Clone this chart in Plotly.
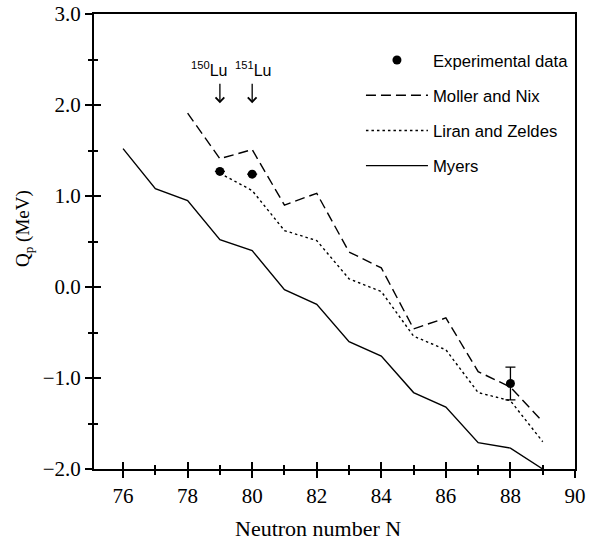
import plotly.graph_objects as go

# Data
N_myers = [76, 77, 78, 79, 80, 81, 82, 83, 84, 85, 86, 87, 88, 89]
Q_myers = [1.52, 1.08, 0.95, 0.52, 0.40, -0.03, -0.19, -0.60, -0.76, -1.16, -1.32, -1.71, -1.77, -2.0]

N_moller = [78, 79, 80, 81, 82, 83, 84, 85, 86, 87, 88, 89]
Q_moller = [1.91, 1.41, 1.51, 0.90, 1.03, 0.385, 0.21, -0.46, -0.34, -0.93, -1.10, -1.48]

N_liran = [79, 80, 81, 82, 83, 84, 85, 86, 87, 88, 89]
Q_liran = [1.25, 1.06, 0.62, 0.51, 0.09, -0.05, -0.54, -0.69, -1.16, -1.25, -1.70]

N_exp = [79, 80, 88]
Q_exp = [1.27, 1.24, -1.06]
Q_exp_err = [0.0, 0.0, 0.18]

isotope_N = [79, 80]
isotope_labels = ["<sup>150</sup>Lu", "<sup>151</sup>Lu"]

x_major = [76, 78, 80, 82, 84, 86, 88, 90]
x_minor = [77, 79, 81, 83, 85, 87, 89]
y_major = [-2.0, -1.0, 0.0, 1.0, 2.0, 3.0]
y_minor = [-1.5, -0.5, 0.5, 1.5, 2.5]

x_range = [75.1, 90]
y_range = [-2.0, 3.0]

serif = "Liberation Serif"
sans = "Liberation Sans"

fig = go.Figure()

fig.add_trace(go.Scatter(
    x=N_exp, y=Q_exp, mode="markers", name="Experimental data",
    marker=dict(color="black", size=9),
    error_y=dict(type="data", array=Q_exp_err, visible=True, color="black", thickness=1.3, width=5),
    legendgroup="a",
))
fig.add_trace(go.Scatter(
    x=N_moller, y=Q_moller, mode="lines", name="Moller and Nix",
    line=dict(color="black", width=1.4, dash="10px,5px"), legendgroup="b",
))
fig.add_trace(go.Scatter(
    x=N_liran, y=Q_liran, mode="lines", name="Liran and Zeldes",
    line=dict(color="black", width=1.4, dash="2.5px,3px"), legendgroup="c",
))
fig.add_trace(go.Scatter(
    x=N_myers, y=Q_myers, mode="lines", name="Myers",
    line=dict(color="black", width=1.4), legendgroup="d",
))
# invisible trace for the overlay axes (inside half of crossing ticks)
fig.add_trace(go.Scatter(x=[80], y=[0], xaxis="x2", yaxis="y2", mode="markers",
                         marker=dict(opacity=0), showlegend=False, hoverinfo="skip"))

for n, lab, xs in zip(isotope_N, isotope_labels, [-11, 1]):
    fig.add_annotation(x=n, y=2.40, text=lab, showarrow=False, xshift=xs,
                       font=dict(family=sans, size=16, color="black"))
    fig.add_annotation(x=n, y=2.02, text="", showarrow=True, ax=0, ay=-21,
                       arrowhead=4, arrowsize=1.3, arrowwidth=1.3, arrowcolor="black")

fig.add_annotation(x=-0.147, xref="paper", xanchor="center", y=0.64, yref="y", yanchor="middle",
                   text="Q<sub>p</sub> (MeV)", textangle=-90, showarrow=False,
                   font=dict(family=serif, size=19, color="black"))
fig.add_annotation(x=0.465, xref="paper", xanchor="center", y=-0.130, yref="paper", yanchor="middle",
                   text="Neutron number N", showarrow=False, borderpad=0,
                   font=dict(family=serif, size=22, color="black"))

axis_common = dict(showgrid=False, zeroline=False, showline=True, linecolor="black",
                   linewidth=2, tickcolor="black", tickwidth=2, automargin=False)

fig.update_layout(
    width=596, height=541,
    margin=dict(l=94, r=21, t=14, b=72),
    paper_bgcolor="white", plot_bgcolor="white",
    showlegend=True,
    legend=dict(x=0.555, y=0.937, xanchor="left", yanchor="top",
                font=dict(family=sans, size=16.7, color="black"),
                tracegroupgap=10.5, bgcolor="rgba(0,0,0,0)", itemwidth=62),
    xaxis=dict(range=x_range, tickvals=x_major, ticks="outside", ticklen=7,
               minor=dict(tickvals=x_minor, ticks="outside", ticklen=4,
                          tickcolor="black", tickwidth=2),
               mirror=True, tickfont=dict(family=serif, size=21, color="black"),
               **axis_common),
    yaxis=dict(range=y_range, tickvals=y_major, tickformat=".1f", ticks="outside", ticklen=7,
               minor=dict(tickvals=y_minor, ticks="outside", ticklen=4, tickcolor="black", tickwidth=2),
               mirror=True, tickfont=dict(family=serif, size=21, color="black"),
               **axis_common),
    xaxis2=dict(range=x_range, overlaying="x", anchor="y2", showgrid=False, zeroline=False,
                showticklabels=False, ticks="inside", ticklen=7, tickwidth=2, tickcolor="black",
                tickvals=x_major[:-1],
                minor=dict(tickvals=x_minor, ticks="inside", ticklen=4,
                           tickcolor="black", tickwidth=2)),
    yaxis2=dict(range=y_range, overlaying="y", anchor="x2", showgrid=False, zeroline=False,
                showticklabels=False, ticks="inside", ticklen=7, tickwidth=2, tickcolor="black",
                tickvals=y_major[1:-1],
                minor=dict(tickvals=y_minor, ticks="inside", ticklen=4,
                           tickcolor="black", tickwidth=2)),
)

fig.write_html("out.html")
